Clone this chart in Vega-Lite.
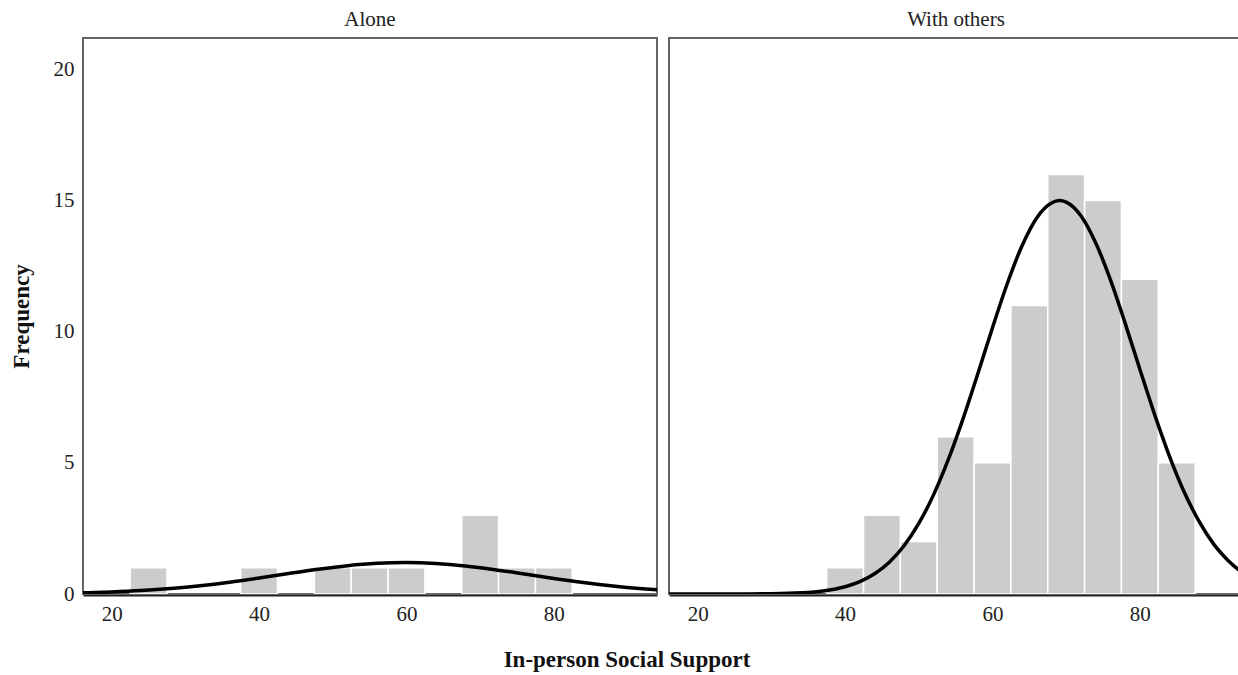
{
  "$schema": "https://vega.github.io/schema/vega-lite/v6.json",
  "padding": {"left": 10, "top": 9, "right": 0, "bottom": 0},
  "background": "white",
  "title": {"text": "In-person Social Support", "orient": "bottom", "anchor": "middle", "font": "Liberation Serif", "fontSize": 23, "fontWeight": "bold", "color": "#111", "offset": 25},
  "data": {"values": [
    {"panel": "Alone", "kind": "bar", "lo": 22.5, "hi": 27.5, "count": 1},
    {"panel": "Alone", "kind": "bar", "lo": 37.5, "hi": 42.5, "count": 1},
    {"panel": "Alone", "kind": "bar", "lo": 47.5, "hi": 52.5, "count": 1},
    {"panel": "Alone", "kind": "bar", "lo": 52.5, "hi": 57.5, "count": 1},
    {"panel": "Alone", "kind": "bar", "lo": 57.5, "hi": 62.5, "count": 1},
    {"panel": "Alone", "kind": "bar", "lo": 67.5, "hi": 72.5, "count": 3},
    {"panel": "Alone", "kind": "bar", "lo": 72.5, "hi": 77.5, "count": 1},
    {"panel": "Alone", "kind": "bar", "lo": 77.5, "hi": 82.5, "count": 1},
    {"panel": "With others", "kind": "bar", "lo": 37.5, "hi": 42.5, "count": 1},
    {"panel": "With others", "kind": "bar", "lo": 42.5, "hi": 47.5, "count": 3},
    {"panel": "With others", "kind": "bar", "lo": 47.5, "hi": 52.5, "count": 2},
    {"panel": "With others", "kind": "bar", "lo": 52.5, "hi": 57.5, "count": 6},
    {"panel": "With others", "kind": "bar", "lo": 57.5, "hi": 62.5, "count": 5},
    {"panel": "With others", "kind": "bar", "lo": 62.5, "hi": 67.5, "count": 11},
    {"panel": "With others", "kind": "bar", "lo": 67.5, "hi": 72.5, "count": 16},
    {"panel": "With others", "kind": "bar", "lo": 72.5, "hi": 77.5, "count": 15},
    {"panel": "With others", "kind": "bar", "lo": 77.5, "hi": 82.5, "count": 12},
    {"panel": "With others", "kind": "bar", "lo": 82.5, "hi": 87.5, "count": 5},
    {"panel": "Alone", "kind": "curve", "score": 16, "freq": 0.043},
    {"panel": "Alone", "kind": "curve", "score": 20, "freq": 0.078},
    {"panel": "Alone", "kind": "curve", "score": 24, "freq": 0.131},
    {"panel": "Alone", "kind": "curve", "score": 28, "freq": 0.209},
    {"panel": "Alone", "kind": "curve", "score": 32, "freq": 0.315},
    {"panel": "Alone", "kind": "curve", "score": 36, "freq": 0.45},
    {"panel": "Alone", "kind": "curve", "score": 40, "freq": 0.609},
    {"panel": "Alone", "kind": "curve", "score": 44, "freq": 0.779},
    {"panel": "Alone", "kind": "curve", "score": 48, "freq": 0.943},
    {"panel": "Alone", "kind": "curve", "score": 52, "freq": 1.08},
    {"panel": "Alone", "kind": "curve", "score": 56, "freq": 1.17},
    {"panel": "Alone", "kind": "curve", "score": 60, "freq": 1.2},
    {"panel": "Alone", "kind": "curve", "score": 64, "freq": 1.164},
    {"panel": "Alone", "kind": "curve", "score": 68, "freq": 1.068},
    {"panel": "Alone", "kind": "curve", "score": 72, "freq": 0.928},
    {"panel": "Alone", "kind": "curve", "score": 76, "freq": 0.762},
    {"panel": "Alone", "kind": "curve", "score": 80, "freq": 0.592},
    {"panel": "Alone", "kind": "curve", "score": 84, "freq": 0.436},
    {"panel": "Alone", "kind": "curve", "score": 88, "freq": 0.303},
    {"panel": "Alone", "kind": "curve", "score": 92, "freq": 0.2},
    {"panel": "Alone", "kind": "curve", "score": 95, "freq": 0.14},
    {"panel": "With others", "kind": "curve", "score": 16, "freq": 0.0},
    {"panel": "With others", "kind": "curve", "score": 20, "freq": 0.0},
    {"panel": "With others", "kind": "curve", "score": 25, "freq": 0.002},
    {"panel": "With others", "kind": "curve", "score": 30, "freq": 0.011},
    {"panel": "With others", "kind": "curve", "score": 34, "freq": 0.045},
    {"panel": "With others", "kind": "curve", "score": 37, "freq": 0.117},
    {"panel": "With others", "kind": "curve", "score": 40, "freq": 0.277},
    {"panel": "With others", "kind": "curve", "score": 42, "freq": 0.47},
    {"panel": "With others", "kind": "curve", "score": 44, "freq": 0.77},
    {"panel": "With others", "kind": "curve", "score": 46, "freq": 1.21},
    {"panel": "With others", "kind": "curve", "score": 48, "freq": 1.84},
    {"panel": "With others", "kind": "curve", "score": 50, "freq": 2.69},
    {"panel": "With others", "kind": "curve", "score": 52, "freq": 3.78},
    {"panel": "With others", "kind": "curve", "score": 54, "freq": 5.12},
    {"panel": "With others", "kind": "curve", "score": 56, "freq": 6.68},
    {"panel": "With others", "kind": "curve", "score": 58, "freq": 8.39},
    {"panel": "With others", "kind": "curve", "score": 60, "freq": 10.15},
    {"panel": "With others", "kind": "curve", "score": 62, "freq": 11.83},
    {"panel": "With others", "kind": "curve", "score": 64, "freq": 13.27},
    {"panel": "With others", "kind": "curve", "score": 66, "freq": 14.34},
    {"panel": "With others", "kind": "curve", "score": 68, "freq": 14.91},
    {"panel": "With others", "kind": "curve", "score": 69.1, "freq": 15.0},
    {"panel": "With others", "kind": "curve", "score": 70, "freq": 14.94},
    {"panel": "With others", "kind": "curve", "score": 72, "freq": 14.42},
    {"panel": "With others", "kind": "curve", "score": 74, "freq": 13.39},
    {"panel": "With others", "kind": "curve", "score": 76, "freq": 11.99},
    {"panel": "With others", "kind": "curve", "score": 78, "freq": 10.33},
    {"panel": "With others", "kind": "curve", "score": 80, "freq": 8.57},
    {"panel": "With others", "kind": "curve", "score": 82, "freq": 6.85},
    {"panel": "With others", "kind": "curve", "score": 84, "freq": 5.27},
    {"panel": "With others", "kind": "curve", "score": 86, "freq": 3.9},
    {"panel": "With others", "kind": "curve", "score": 88, "freq": 2.79},
    {"panel": "With others", "kind": "curve", "score": 90, "freq": 1.91},
    {"panel": "With others", "kind": "curve", "score": 92, "freq": 1.27},
    {"panel": "With others", "kind": "curve", "score": 95, "freq": 0.6}
  ]},
  "facet": {
    "column": {
      "field": "panel", "type": "nominal", "sort": ["Alone", "With others"],
      "header": {"title": null, "labelFont": "Liberation Serif", "labelFontSize": 21, "labelColor": "#222", "labelPadding": 7}
    }
  },
  "spacing": 10,
  "spec": {
    "width": 574,
    "height": 556,
    "layer": [
      {
        "transform": [{"filter": "datum.kind === 'bar'"}],
        "mark": {"type": "rect", "color": "#cccccc", "stroke": "white", "strokeWidth": 1.5, "clip": true},
        "encoding": {
          "x": {"field": "lo", "type": "quantitative", "scale": {"domain": [16.1, 94.0], "nice": false, "zero": false},
                "axis": {"title": null, "values": [20, 40, 60, 80], "ticks": false, "grid": false, "domainColor": "#222", "domainWidth": 2, "zindex": 1, "labelFont": "Liberation Serif", "labelFontSize": 21, "labelColor": "#222", "labelPadding": 8}},
          "x2": {"field": "hi"},
          "y": {"field": "count", "type": "quantitative", "scale": {"domain": [0, 21.2], "nice": false},
                "axis": {"title": "Frequency", "values": [0, 5, 10, 15, 20], "ticks": false, "grid": false, "domain": false, "labelFont": "Liberation Serif", "labelFontSize": 21, "labelColor": "#222", "labelPadding": 8, "titleFont": "Liberation Serif", "titleFontSize": 23, "titleFontWeight": "bold", "titleColor": "#111", "titlePadding": 20}},
          "y2": {"datum": 0}
        }
      },
      {
        "transform": [{"filter": "datum.kind === 'curve'"}],
        "mark": {"type": "line", "color": "black", "strokeWidth": 3.5, "interpolate": "monotone", "clip": true},
        "encoding": {
          "x": {"field": "score", "type": "quantitative"},
          "y": {"field": "freq", "type": "quantitative"}
        }
      }
    ]
  },
  "config": {
    "view": {"stroke": "#666", "strokeWidth": 2},
    "axis": {"labelFont": "Liberation Serif"}
  }
}
